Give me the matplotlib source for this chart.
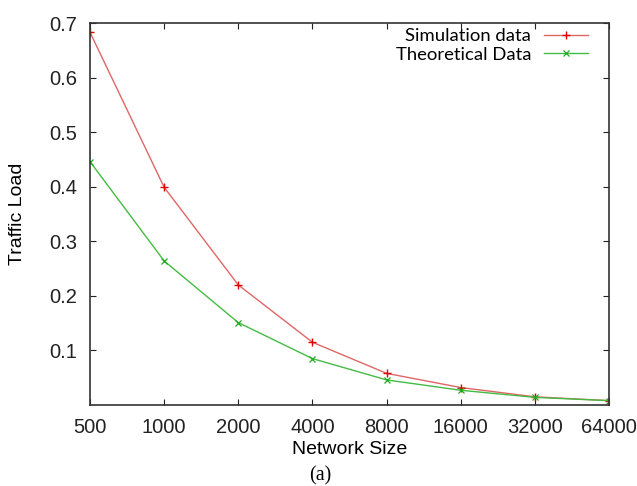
import matplotlib
matplotlib.use("Agg")
import matplotlib.pyplot as plt

sizes = ["500", "1000", "2000", "4000", "8000", "16000", "32000", "64000"]
simulation = [0.683, 0.399, 0.220, 0.115, 0.058, 0.032, 0.015, 0.008]
theoretical = [0.446, 0.264, 0.151, 0.085, 0.046, 0.027, 0.014, 0.008]
y_ticks = [0.1, 0.2, 0.3, 0.4, 0.5, 0.6, 0.7]

plt.rcParams['font.family'] = ['Liberation Sans', 'DejaVu Sans']

fig = plt.figure(figsize=(6.37, 4.86), dpi=100)
ax = fig.add_axes([90 / 637, 1 - 405 / 486, 519 / 637, 382 / 486])

x = list(range(len(sizes)))
ax.plot(x, simulation, color='#e06666', lw=1.0, marker='+', ms=6, mew=1.0,
        mec='#e00000', label='Simulation data')
ax.plot(x, theoretical, color='#44bb44', lw=1.0, marker='x', ms=5, mew=0.9,
        mec='#22aa22', label='Theoretical Data')

ax.set_xlim(0, len(sizes) - 1)
ax.set_ylim(0, 0.7)
ax.set_xticks(x)
ax.set_xticklabels(sizes)
ax.set_yticks(y_ticks)
ax.set_yticklabels(["%.1f" % v for v in y_ticks])
ax.tick_params(direction='in', length=4, width=0.8, top=True, right=True,
               labelsize=14.5, colors='#222222', pad=9)
ax.tick_params(axis='x', pad=9)
for s in ax.spines.values():
    s.set_linewidth(1.2)
    s.set_color('#333333')

ax.set_xlabel('Network Size', fontsize=14, labelpad=3)
ax.set_ylabel('Traffic Load', fontsize=14, labelpad=17)

leg = ax.legend(loc='upper right', bbox_to_anchor=(0.985, 1.02), frameon=False,
                markerfirst=False, alignment='right', handlelength=2.4,
                handletextpad=0.7, labelspacing=0.12, borderpad=0.2,
                prop={'family': 'Lato', 'size': 13.3})

fig.text(320 / 637, 1 - 476 / 486, '(a)', ha='center', va='center',
         fontsize=14.5, family='Liberation Serif')

fig.savefig('out.png', dpi=100)
